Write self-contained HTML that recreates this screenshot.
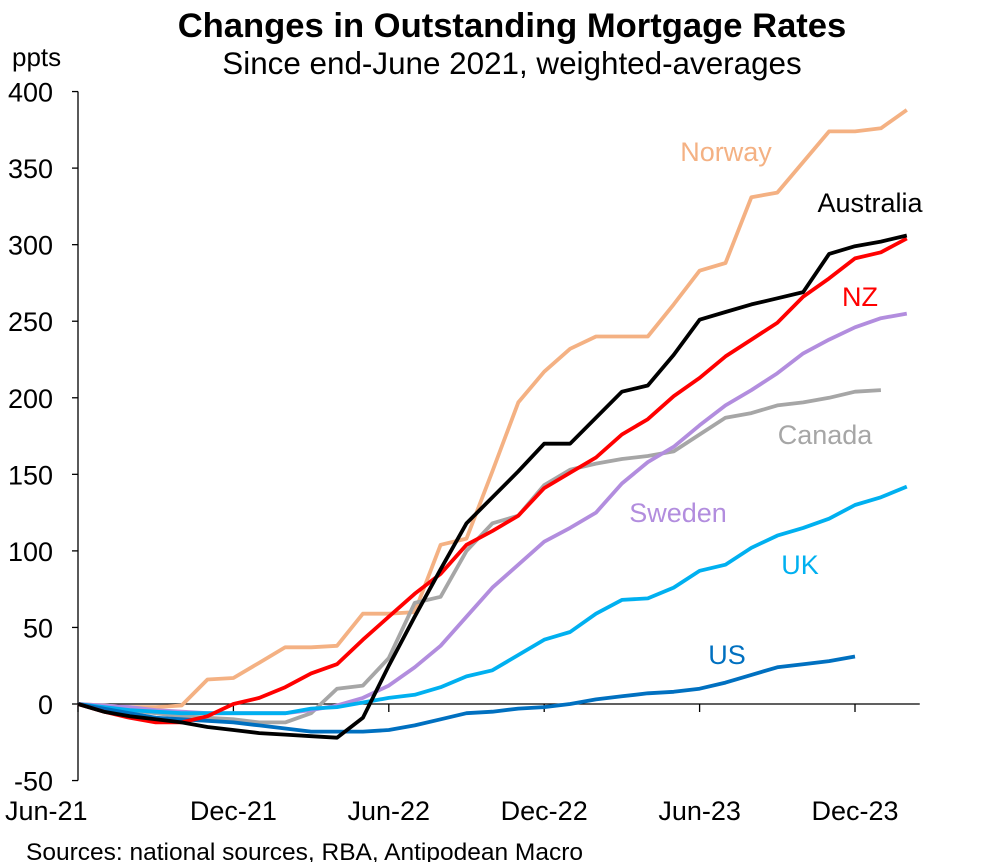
<!DOCTYPE html>
<html><head><meta charset="utf-8"><style>
body{margin:0;background:#fff;font-family:"Liberation Sans",Arial,sans-serif}
svg{display:block}
</style></head><body>
<svg id="chart" width="997" height="862" viewBox="0 0 997 862">
<text x="512" y="37" text-anchor="middle" font-size="34.6" font-weight="bold">Changes in Outstanding Mortgage Rates</text>
<text x="512" y="74" text-anchor="middle" font-size="31.4">Since end-June 2021, weighted-averages</text>
<text x="12" y="66" font-size="26">ppts</text>
<text x="26" y="860" font-size="24.5">Sources: national sources, RBA, Antipodean Macro</text>
<g id="axes"></g>
<g id="series"></g>
<g id="labels"></g>
</svg>
<script>
const yTicks=[-50,0,50,100,150,200,250,300,350,400];
const xTickMonths=[0,6,12,18,24,30];
const xTickLabels=["Jun-21","Dec-21","Jun-22","Dec-22","Jun-23","Dec-23"];
const seriesNames=["Norway","Canada","Sweden","UK","US","NZ","Australia"];
const norway=[0,-1,-2,-2,-1,16,17,27,37,37,38,59,59,60,104,108,152,197,217,232,240,240,240,261,283,288,331,334,354,374,374,376,388];
const canada=[0,-2,-4,-6,-8,-9,-10,-12,-12,-6,10,12,30,66,70,100,118,123,143,153,157,160,162,165,176,187,190,195,197,200,204,205];
const sweden=[0,-1,-2,-4,-5,-6,-6,-6,-6,-4,-1,4,12,24,38,57,76,91,106,115,125,144,158,168,182,195,205,216,229,238,246,252,255];
const uk=[0,-2,-4,-5,-6,-6,-6,-6,-6,-3,-2,1,4,6,11,18,22,32,42,47,59,68,69,76,87,91,102,110,115,121,130,135,142];
const us=[0,-3,-6,-9,-10,-11,-12,-14,-16,-18,-18,-18,-17,-14,-10,-6,-5,-3,-2,0,3,5,7,8,10,14,19,24,26,28,31];
const nz=[0,-5,-9,-12,-12,-8,0,4,11,20,26,42,57,72,85,104,113,123,141,151,161,176,186,201,213,227,238,249,266,278,291,295,304];
const australia=[0,-5,-8,-10,-12,-15,-17,-19,-20,-21,-22,-9,25,57,88,118,135,152,170,170,187,204,208,228,251,256,261,265,269,294,299,302,306];
const seriesData=[norway,canada,sweden,uk,us,nz,australia];
const colors=["#F4B183","#A6A6A6","#B28DDE","#00B0F0","#0070C0","#FF0000","#000000"];
const labelPos=[[726,161],[825,444],[678,522],[800,574],[727,664],[860,306],[870,212]];
const NS="http://www.w3.org/2000/svg";
const X0=78, MW=25.9, Y0=704, PPU=689/450;
function xs(m){return X0+m*MW;}
function ys(v){return Y0-v*PPU;}
function mk(tag,attrs,parent){const e=document.createElementNS(NS,tag);for(const k in attrs)e.setAttribute(k,attrs[k]);parent.appendChild(e);return e;}
const axes=document.getElementById('axes');
let yl=mk('line',{x1:X0,y1:ys(400),x2:X0,y2:ys(-50),stroke:'#000','stroke-width':1.3},axes);


yTicks.forEach(v=>{
 let t=mk('line',{x1:X0-6,y1:ys(v),x2:X0,y2:ys(v),stroke:'#000','stroke-width':1.3},axes);
 
 
 let tx=mk('text',{x:53,y:ys(v)+10,'text-anchor':'end','font-size':27},axes);
 tx.textContent=v;
 
 
});
let xl=mk('line',{x1:X0,y1:Y0,x2:xs(32.5),y2:Y0,stroke:'#000','stroke-width':1.3},axes);


xTickMonths.forEach((m,i)=>{
 let t=mk('line',{x1:xs(m),y1:Y0,x2:xs(m),y2:Y0+8,stroke:'#000','stroke-width':1.3},axes);
 
 
 let attrs=i===0?{x:5,y:820,'text-anchor':'start','font-size':27}:{x:xs(m),y:820,'text-anchor':'middle','font-size':27};
 let tx=mk('text',attrs,axes);
 tx.textContent=xTickLabels[i];
 
 
});
const sg=document.getElementById('series'), lg=document.getElementById('labels');
seriesData.forEach((d,i)=>{
 const pts=d.map((v,m)=>xs(m).toFixed(1)+','+ys(v).toFixed(1)).join(' ');
 let p=mk('polyline',{points:pts,fill:'none',stroke:colors[i],'stroke-width':3.8,'stroke-linejoin':'round'},sg);
 
 
 let t=mk('text',{x:labelPos[i][0],y:labelPos[i][1],'text-anchor':'middle','font-size':27,fill:colors[i]},lg);
 t.textContent=seriesNames[i];
 
 
});
</script>
</body></html>
